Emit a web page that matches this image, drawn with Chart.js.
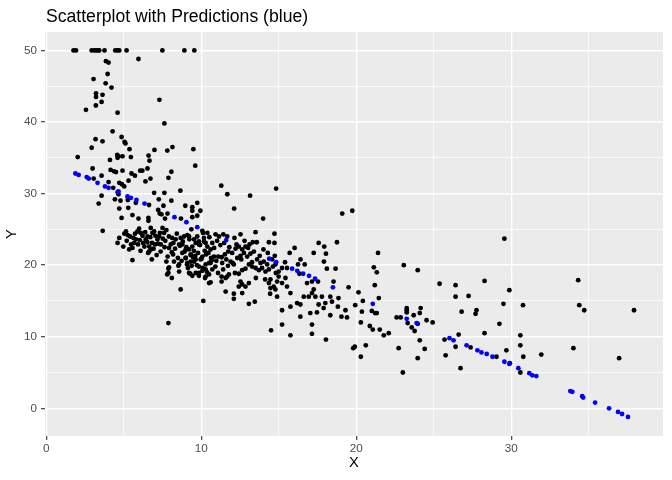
<!DOCTYPE html>
<html>
<head>
<meta charset="utf-8">
<script src="https://cdn.jsdelivr.net/npm/chart.js@4.4.1/dist/chart.umd.min.js"></script>
<style>
  html, body { margin: 0; padding: 0; background: #ffffff; }
  #wrap { width: 672px; height: 480px; }
</style>
</head>
<body>
<div id="wrap"><canvas id="scatter-chart"></canvas></div>
<script>
var chartTitle = 'Scatterplot with Predictions (blue)';
var xTicks = [0, 10, 20, 30];
var yTicks = [0, 10, 20, 30, 40, 50];

var actualTop = [
  [1.76,50],[1.92,50],[2.93,50],[3.1,50],[3.21,50],[3.34,50],[3.42,50],[3.76,50],[4.45,50],[4.6,50],
  [4.71,50],[5.18,50],[7.49,50],[8.91,50],[9.55,50],
  [3.85,48.5],[4.02,48.3],[5.95,48.8],[3.96,46.7],[3.05,46.0],[3.83,45.4],[4.21,44.8],[3.21,44.0],
  [3.21,43.5],[3.63,43.8],[3.57,42.8],[3.2,42.3],[2.56,41.7],[4.6,41.3],[7.3,43.1],[7.62,39.8],
  [4.28,38.7],[4.86,37.9],[3.18,37.6],[3.63,37.3],[5.05,37.2],[5.11,37.0],[2.93,36.4],[5.37,36.2],
  [6.98,36.1],[7.81,36.0],[8.14,36.5],[9.49,36.2],[2.03,35.1],[4.58,35.4],[4.67,35.2],[4.92,35.2],
  [4.6,35.0],[5.46,35.1],[6.6,35.3],[4.11,34.7],[6.66,34.6]
];
var actualUpper = [
  [9.61,33.9],[2.99,33.5],[4.15,33.3],[4.37,33.1],[4.5,33.0],[4.92,33.2],[5.5,32.8],[5.72,32.5],
  [6.06,33.2],[6.2,33.2],[6.53,33.5],[8.07,33.05],[7.88,32.2],[6.72,32.1],[6.4,31.7],[3.06,32.1],
  [3.57,32.5],[4.02,31.6],[5.31,31.8],[4.71,31.5],[4.88,31.3],[5.03,31.0],[4.32,30.8],[8.65,30.4],
  [6.96,30.1],[7.62,30.1],[7.26,29.2],[8.07,29.0],[3.57,29.7],[3.38,28.6],[4.43,29.2],[4.79,29.0],
  [5.26,29.1],[5.78,28.7],[6.63,28.4],[7.56,28.3],[8.97,28.3],[9.42,28.1],[9.74,28.7],[11.29,31.1],
  [11.68,29.9],[13.15,29.7],[14.83,30.7],[4.66,29.9],
  [4.71,27.9],[5.29,28.0],[7.22,27.7],[7.82,27.2],[7.43,27.1],[9.42,27.6],[9.94,27.6],[5.56,27.0],
  [5.95,26.5],[6.59,26.6],[6.59,26.2],[4.86,26.6],[7.32,27.2],[7.66,26.5],[8.69,26.5],[9.42,26.7],
  [9.74,26.9],[12.12,27.9],[13.99,26.5],[19.09,27.2],[19.74,27.6],[3.64,24.8],[9.36,25.0],[10.07,24.8],
  [10.11,24.5],[5.99,25.1],[6.74,25.2],[7.5,25.2]
];
var actualCluster = [
  [4.6,23.1],[4.71,23.8],[4.97,22.6],[5.14,24.7],[5.25,24.2],[5.35,22.2],[5.56,22.4],[5.67,23.1],
  [5.78,23.6],[5.88,24.7],[6.1,24.5],[6.25,23.1],[6.42,23.6],[6.53,24.0],[6.64,22.6],[6.85,24.5],
  [6.96,24.7],[6.64,21.9],[6.74,22.2],[7.02,22.9],[7.17,23.6],[7.28,24.0],[7.39,22.9],[7.6,24.5],
  [7.75,24.9],[7.92,22.4],[8.1,21.8],[8.2,23.1],[8.35,23.6],[8.57,22.9],[8.67,23.8],[8.89,24.0],
  [9.1,24.2],[8.78,21.7],[9.0,21.0],[9.21,22.2],[9.42,22.6],[9.64,23.1],[9.74,24.0],[9.85,23.3],
  [10.17,23.8],[10.28,23.1],[10.39,24.5],[5.56,20.7],[6.81,20.8],[7.75,20.5],[7.92,19.7],[7.88,18.9],
  [8.57,20.1],[8.57,19.1],[9.1,20.3],[9.21,18.9],[9.53,20.5],[9.85,19.8],[9.96,20.8],[10.28,19.4],
  [10.5,20.3],[9.85,18.9],[9.42,18.5],
  [7.8,18.7],[8.1,18.2],[8.52,19.9],[8.24,20.5],[8.67,16.6],[10.13,15.0],[7.88,11.9],[8.99,21.0],
  [9.32,20.5],[9.47,21.1],[9.14,19.6],[9.29,18.8],[9.64,18.9],[10.07,19.2],[10.24,18.2],[10.5,17.5],
  [7.88,19.5],
  [9.21,24.0],[9.53,23.6],[9.85,22.9],[10.17,23.3],[10.39,22.6],[10.6,22.2],[10.71,23.1],[10.46,21.7],
  [10.07,21.2],[9.64,20.8],[10.28,20.1],[10.6,20.3],[10.71,19.4],[10.5,18.7],[10.28,18.4],[9.85,18.5],
  [10.82,21.2],[9.0,22.2],[8.78,22.9],[9.32,21.5],
  [5.04,24.4],[5.19,23.4],[5.41,24.0],[5.47,22.9],[5.62,23.8],[5.73,24.4],[5.92,22.9],[6.03,23.5],
  [6.08,22.0],[6.21,24.1],[6.33,22.6],[6.38,24.6],[6.52,23.2],[6.57,21.7],[6.71,23.9],[6.83,23.1],
  [6.92,22.3],[7.04,24.1],[7.12,21.4],[7.21,23.0],[7.33,24.5],[7.38,21.9],[7.52,23.7],[7.63,22.5],
  [7.68,23.4],[7.83,21.2],[7.91,24.0],[8.03,22.9],[8.12,23.8],[8.18,21.5],[8.31,22.3],[8.42,24.4],
  [8.49,21.0],[8.62,22.7],[8.73,20.6],[8.81,23.3],[8.93,21.9],[9.04,22.5],[9.08,20.1],[9.23,23.6],
  [9.31,21.4],[9.38,19.9],[9.52,22.0],[9.61,21.3],[9.72,20.0],[9.79,21.7],[9.92,22.8],[10.02,20.9],
  [10.09,19.6],[10.22,22.0],[10.31,21.5],[10.38,19.0],[10.52,23.9],[10.63,21.0],[10.68,20.7],[10.83,22.4],
  [10.91,19.8],[11.02,23.4],[11.08,18.9],[11.23,22.8],[11.41,19.4],[11.48,23.1],[11.72,19.9],[11.81,22.5],
  [12.02,20.3],[12.27,22.9],[12.58,20.8],[12.79,23.4],[13.02,22.4],[13.27,20.4],[13.52,18.2],[13.77,21.3],
  [14.01,22.2],[14.12,18.0],[14.29,21.7],[14.62,19.8],[14.81,18.9]
];
var actualMiddle = [
  [10.92,24.3],[11.14,24.0],[11.42,24.3],[11.67,24.0],[12.14,23.8],[12.53,24.3],[13.5,24.6],[13.58,23.2],
  [13.32,23.2],[13.11,22.9],[12.85,22.6],[12.64,22.2],[12.42,22.6],[12.21,22.3],[11.99,21.7],[11.74,21.9],
  [11.52,21.5],[11.31,21.1],[11.09,21.2],[10.97,20.6],[11.35,20.3],[11.61,20.8],[11.89,20.5],[12.1,20.1],
  [12.32,21.0],[12.53,21.3],[12.75,21.7],[12.96,21.2],[13.17,21.6],[13.39,21.9],[13.6,20.8],[13.82,20.3],
  [14.03,20.5],[14.25,20.1],[14.57,20.8],[14.74,21.3],[14.78,20.1],[14.36,19.4],[14.14,19.1],[13.92,19.6],
  [13.71,19.3],[13.5,19.6],[13.28,19.8],[13.07,20.1],[12.85,19.5],[12.64,19.3],[12.42,18.8],[12.17,18.9],
  [11.78,18.7],[11.57,18.2],[11.31,17.7],[11.67,18.4],[12.53,17.7],[12.64,17.3],[12.42,17.0],[12.85,17.0],
  [13.07,17.5],[14.36,17.5],[14.46,18.0],[14.67,17.0],[14.89,17.7],[14.99,18.4],[14.46,16.8],[14.78,16.6],
  [14.99,19.1],[14.89,15.6],[14.44,16.0],[11.57,16.3],[12.1,16.0],[12.1,15.3],[12.64,16.1],[13.07,14.6],
  [13.45,14.9],[10.6,17.6],[11.31,18.4],[14.36,23.2],[14.72,23.1],[14.72,24.4]
];
var actualRight = [
  [15.4,20.4],[16.02,22.4],[15.7,21.7],[15.53,19.6],[16.24,20.1],[16.33,18.8],[16.67,20.1],[16.82,17.5],
  [17.14,17.7],[17.25,16.6],[17.53,17.7],[17.78,15.6],[18.32,15.6],[18.53,17.7],[18.0,14.7],[18.43,14.9],
  [18.85,15.4],[18.81,14.2],[18.32,13.0],[17.89,14.0],[17.57,14.5],[17.36,15.6],[17.14,16.1],[16.93,15.6],
  [16.61,15.6],[16.39,14.5],[16.18,14.7],[15.75,16.1],[15.53,17.0],[15.21,17.5],[15.43,18.2],[15.75,14.2],
  [15.21,13.7],[15.21,11.7],[14.5,10.9],[15.75,10.2],[17.14,11.7],[17.14,10.4],[16.39,12.8],[17.03,13.3],
  [17.46,13.4],[18.04,9.6],[19.4,12.7],[19.04,12.8],[19.3,13.7],[19.5,16.9],[19.93,14.4],[19.9,8.6],
  [19.8,8.4],[17.25,21.7],[17.57,23.1],[17.93,22.6],[18.04,21.6],[17.91,20.5],[18.75,23.2],[18.66,19.5],
  [18.1,19.5],[16.4,20.8],[15.21,19.6],
  [20.14,16.2],[20.42,15.0],[20.36,13.5],[20.29,12.0],[20.61,8.8],[20.29,7.2],[21.4,21.7],[21.13,19.7],
  [21.32,19.0],[21.19,17.2],[21.45,15.4],[21.0,13.6],[21.21,13.3],[21.32,13.3],[20.87,11.5],[21.06,11.0],
  [21.51,11.0],[21.77,10.2],[22.09,10.5],[23.06,20.0],[23.96,19.3],[23.25,14.0],[23.25,13.7],[23.25,13.4],
  [22.6,12.7],[22.86,12.7],[23.7,13.0],[24.09,13.3],[24.15,14.0],[23.31,11.9],[23.57,11.3],[23.76,10.8],
  [23.96,11.8],[24.53,12.3],[24.92,12.0],[24.09,9.5],[22.73,8.4],[24.41,8.3],[23.0,5.0],[23.96,7.0],
  [25.37,17.4],[26.4,17.2],[26.4,15.6],[27.24,15.7],[28.27,17.8],[27.75,13.7],[27.69,13.2],[26.79,13.5],
  [25.69,9.6],[26.6,10.3],[26.4,8.6],[25.76,7.4],[27.37,8.5],[26.72,5.6],[28.27,10.5],[29.23,11.8],
  [29.55,23.7],[29.87,16.5],[29.49,14.6],[30.75,14.4],[29.68,8.1],[29.9,6.3],[30.58,10.2],[30.58,8.8],
  [30.77,7.2],[30.58,5.0],[29.04,7.2],[31.93,7.5],[34.0,8.4],[34.31,17.9],[34.38,14.4],[34.7,13.7],
  [36.95,7.0],[37.91,13.7]
];

// predictions, drawn in blue
var predicted = [
  [1.88,32.8],[2.09,32.6],[2.61,32.3],[2.74,32.1],[3.31,31.5],[3.79,31.0],[4.02,30.8],[4.6,30.2],
  [4.66,30.3],[5.24,29.6],[5.46,29.4],[5.82,29.1],[6.34,28.6],[8.27,26.7],[9.04,26.0],[9.74,25.3],
  [11.61,23.5],[14.38,20.9],[14.83,20.4],[15.86,19.5],[16.19,19.2],[16.57,18.8],[16.95,18.5],[17.34,18.1],
  [18.49,16.9],[21.06,14.6],[23.25,12.5],[23.89,11.9],[26.01,9.8],[26.27,9.5],[27.11,8.8],[27.81,8.1],
  [28.07,7.8],[28.41,7.6],[28.78,7.2],[29.55,6.5],[29.87,6.2],[30.45,5.6],[31.16,4.9],[31.35,4.6],
  [31.61,4.5],[33.8,2.4],[33.93,2.3],[34.57,1.7],[34.63,1.5],[35.4,0.8],[36.3,0.0],[36.88,-0.5],
  [37.14,-0.8],[37.52,-1.2]
];

function toPoints(pairs) {
  return pairs.map(function (p) { return { x: p[0], y: p[1] }; });
}

function stepTicks(max) {
  var out = [];
  for (var v = 0; v <= max; v += 5) out.push({ value: v });
  return out;
}

function isMajor(list, v) { return list.indexOf(v) !== -1; }

var panelBackground = {
  id: 'panelBackground',
  beforeDraw: function (chart) {
    var a = chart.chartArea, ctx = chart.ctx;
    ctx.save();
    ctx.fillStyle = '#EBEBEB';
    ctx.fillRect(a.left, a.top, a.right - a.left, a.bottom - a.top);
    ctx.restore();
  }
};

var plotTitle = {
  id: 'plotTitle',
  afterDraw: function (chart) {
    var ctx = chart.ctx;
    ctx.save();
    ctx.fillStyle = '#000000';
    ctx.font = '17.6px "Liberation Sans", Arial, sans-serif';
    ctx.textBaseline = 'alphabetic';
    ctx.textAlign = 'left';
    ctx.fillText(chartTitle, chart.chartArea.left + 1, 22);
    ctx.restore();
  }
};

var allActual = actualTop.concat(actualUpper, actualCluster, actualMiddle, actualRight);

function gridWidth(list) {
  return function (c) { return isMajor(list, c.tick.value) ? 1.4 : 0.7; };
}
function tickColor(list) {
  return function (c) { return isMajor(list, c.tick.value) ? '#333333' : 'rgba(0,0,0,0)'; };
}

var tickFont = { family: '"Liberation Sans", Arial, sans-serif', size: 11.7 };
var titleFont = { family: '"Liberation Sans", Arial, sans-serif', size: 14.7 };

new Chart(document.getElementById('scatter-chart').getContext('2d'), {
  type: 'scatter',
  data: {
    datasets: [{
      label: 'Predicted',
      data: toPoints(predicted),
      backgroundColor: '#0000FF',
      borderWidth: 0,
      pointRadius: 2.4
    }, {
      label: 'Actual',
      data: toPoints(allActual),
      backgroundColor: '#000000',
      borderWidth: 0,
      pointRadius: 2.4
    }]
  },
  options: {
    responsive: true,
    maintainAspectRatio: false,
    animation: false,
    devicePixelRatio: 1,
    layout: { padding: { top: 32, right: 9, bottom: 0, left: 0 } },
    scales: {
      x: {
        type: 'linear',
        min: -0.08,
        max: 39.78,
        afterBuildTicks: function (axis) { axis.ticks = stepTicks(35); },
        afterFit: function (axis) { axis.height = 44; },
        border: { display: false },
        grid: {
          color: '#FFFFFF',
          lineWidth: gridWidth(xTicks),
          tickColor: tickColor(xTicks),
          tickWidth: 1.1,
          tickLength: 4,
          drawTicks: true
        },
        ticks: {
          color: '#4D4D4D',
          font: tickFont,
          padding: 2,
          maxRotation: 0,
          autoSkip: false,
          callback: function (v) { return isMajor(xTicks, v) ? String(v) : ''; }
        },
        title: {
          display: true,
          text: 'X',
          color: '#000000',
          font: titleFont,
          padding: { top: 0, bottom: 8 }
        }
      },
      y: {
        type: 'linear',
        min: -3.87,
        max: 52.57,
        afterBuildTicks: function (axis) { axis.ticks = stepTicks(50); },
        afterFit: function (axis) { axis.width = 45; },
        border: { display: false },
        grid: {
          color: '#FFFFFF',
          lineWidth: gridWidth(yTicks),
          tickColor: tickColor(yTicks),
          tickWidth: 1.1,
          tickLength: 4,
          drawTicks: true
        },
        ticks: {
          color: '#4D4D4D',
          font: tickFont,
          padding: 4,
          autoSkip: false,
          callback: function (v) { return isMajor(yTicks, v) ? String(v) : ''; }
        },
        title: {
          display: true,
          text: 'Y',
          color: '#000000',
          font: titleFont,
          padding: { top: 3, bottom: 0 }
        }
      }
    },
    plugins: {
      legend: { display: false },
      tooltip: { enabled: false },
      title: { display: false }
    }
  },
  plugins: [panelBackground, plotTitle]
});
</script>
</body>
</html>
